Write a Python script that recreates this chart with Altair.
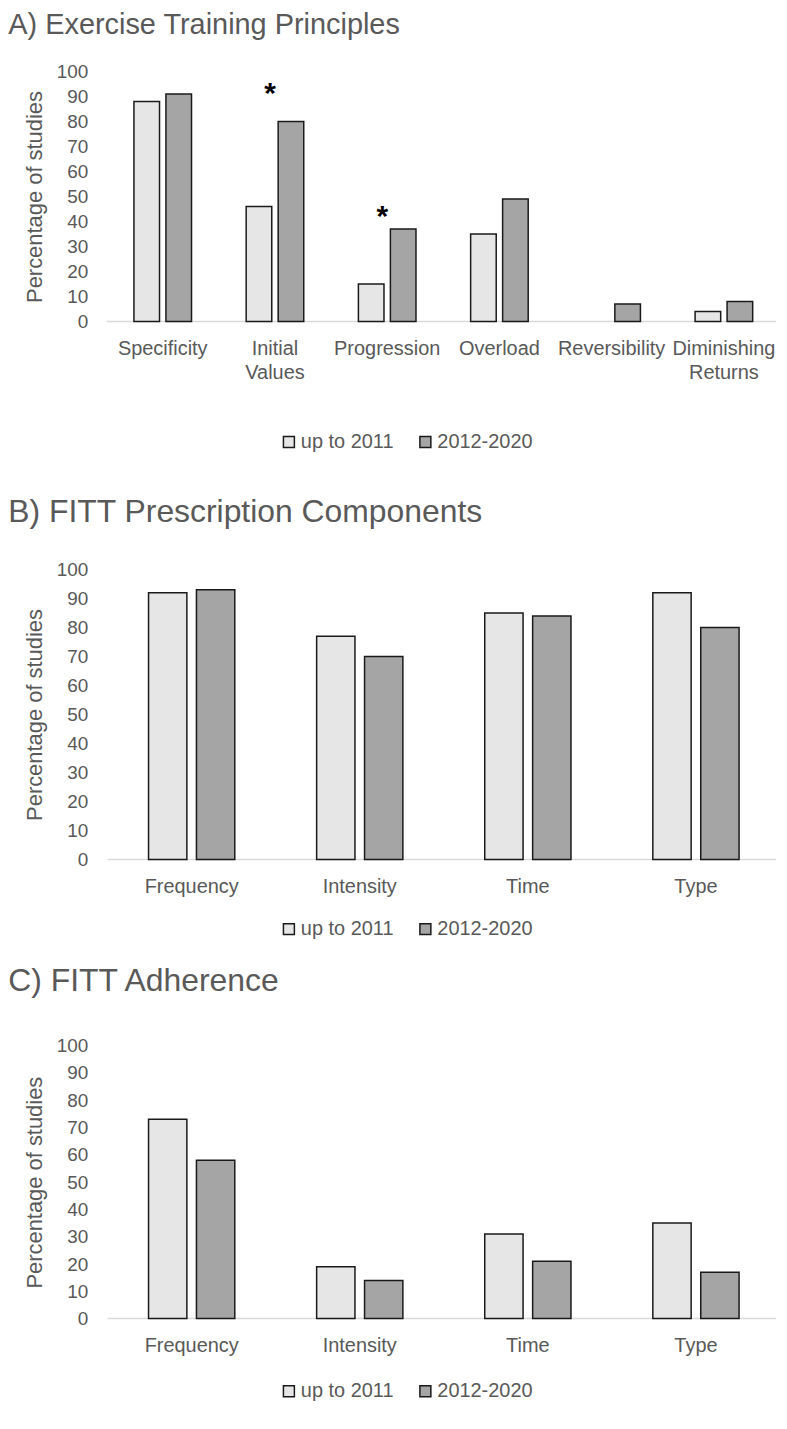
import altair as alt
import pandas as pd

# ---------------- data ----------------
SERIES = ["up to 2011", "2012-2020"]
FILLS = ["#e7e6e6", "#a5a5a5"]

a_categories = ["Specificity", "Initial Values", "Progression", "Overload",
                "Reversibility", "Diminishing Returns"]
a_upto_2011 = [88, 46, 15, 35, 0, 4]
a_2012_2020 = [91, 80, 37, 49, 7, 8]
a_star_categories = ["Initial Values", "Progression"]
a_star_levels = [94, 45]

b_categories = ["Frequency", "Intensity", "Time", "Type"]
b_upto_2011 = [92, 77, 85, 92]
b_2012_2020 = [93, 70, 84, 80]

c_categories = ["Frequency", "Intensity", "Time", "Type"]
c_upto_2011 = [73, 19, 31, 35]
c_2012_2020 = [58, 14, 21, 17]

y_ticks = list(range(0, 101, 10))

# ---------------- style ----------------
FONT = "Liberation Sans"
TEXT = "#595959"
PLOT_W = 673

LABEL_EXPR = ("datum.label == 'Initial Values' ? ['Initial', 'Values'] : "
              "datum.label == 'Diminishing Returns' ? ['Diminishing', 'Returns'] : datum.label")


def make_panel(title, title_size, cats, first, second, height, title_offset,
               legend_y, x_range, star_cats=None, star_levels=None):
    rows = []
    for c, v1, v2 in zip(cats, first, second):
        for s, v in zip(SERIES, (v1, v2)):
            if v > 0:
                rows.append({"category": c, "series": s, "value": v})
    df = pd.DataFrame(rows)

    x_scale = alt.Scale(domain=cats, range=x_range,
                        paddingInner=0.487, paddingOuter=0.2435)
    x_axis = alt.Axis(title=None, labelAngle=0, labelFont=FONT, labelFontSize=20,
                      labelColor=TEXT, labelPadding=17, labelLineHeight=24,
                      labelOverlap=False, labelExpr=LABEL_EXPR, ticks=False,
                      tickSize=0, domain=False, grid=False)
    y_scale = alt.Scale(domain=[0, 100], nice=False, zero=True)
    y_axis = alt.Axis(title="Percentage of studies", values=y_ticks, grid=False,
                      domain=False, ticks=False, tickSize=0, labelFont=FONT,
                      labelFontSize=19, labelColor=TEXT, labelPadding=18,
                      labelFlush=False, labelOverlap=False,
                      titleFont=FONT, titleFontSize=22, titleFontWeight="normal",
                      titleColor=TEXT, titlePadding=10)

    base = alt.Chart(pd.DataFrame({"level": [0]})).mark_rule(
        color="#d9d9d9", strokeWidth=1.5
    ).encode(
        y=alt.Y("level:Q", scale=y_scale, axis=y_axis),
        x=alt.value(x_range[0]), x2=alt.value(PLOT_W),
    )

    legend = alt.Legend(orient="none", legendX=174, legendY=legend_y,
                        direction="horizontal", title=None, symbolType="square",
                        symbolSize=121, symbolStrokeColor="#1a1a1a",
                        symbolStrokeWidth=1.5, symbolOpacity=1, labelFont=FONT,
                        labelFontSize=20, labelColor=TEXT, labelOffset=2,
                        columnPadding=21, padding=0, offset=0)

    bars = alt.Chart(df).mark_bar(stroke="#1a1a1a", strokeWidth=1.5).encode(
        x=alt.X("category:N", scale=x_scale, axis=x_axis),
        xOffset=alt.XOffset("series:N",
                            scale=alt.Scale(domain=SERIES, paddingInner=0.2,
                                            paddingOuter=0)),
        y=alt.Y("value:Q", scale=y_scale, axis=y_axis),
        color=alt.Color("series:N", scale=alt.Scale(domain=SERIES, range=FILLS),
                        legend=legend),
    )

    layers = [base, bars]
    if star_cats:
        stars = alt.Chart(pd.DataFrame({"category": star_cats,
                                        "level": star_levels})).mark_text(
            text="*", font=FONT, fontSize=30, fontWeight="bold", color="black",
            baseline="alphabetic", dx=-5, dy=17
        ).encode(
            x=alt.X("category:N", scale=x_scale, axis=x_axis),
            y=alt.Y("level:Q", scale=y_scale, axis=y_axis),
        )
        layers.append(stars)

    return alt.layer(*layers).properties(
        width=PLOT_W, height=height,
        title=alt.TitleParams(text=title, anchor="start", frame="bounds",
                              font=FONT, fontSize=title_size, fontWeight="normal",
                              color=TEXT, baseline="alphabetic",
                              offset=title_offset, dx=-15),
    )


panel_a = make_panel("A) Exercise Training Principles", 29, a_categories,
                     a_upto_2011, a_2012_2020, 251, 0, 362, [1, 677],
                     a_star_categories, a_star_levels)
panel_b = make_panel("B) FITT Prescription Components", 32, b_categories,
                     b_upto_2011, b_2012_2020, 291, 7, 351, [2, 677])
panel_c = make_panel("C) FITT Adherence", 32, c_categories,
                     c_upto_2011, c_2012_2020, 274, 14, 337, [2, 677])

RES = dict(x="independent", y="independent", color="independent",
           xOffset="independent")

lower = alt.vconcat(panel_b, panel_c, spacing=26).resolve_scale(**RES)\
    .resolve_legend(color="independent")

chart = alt.vconcat(panel_a, lower, spacing=44).resolve_scale(**RES)\
    .resolve_legend(color="independent")\
    .properties(padding={"left": 0, "right": 0, "top": 0, "bottom": 0},
                background="white")\
    .configure_view(stroke=None)

chart.save("out.html", embed_options={"renderer": "svg", "actions": False})
